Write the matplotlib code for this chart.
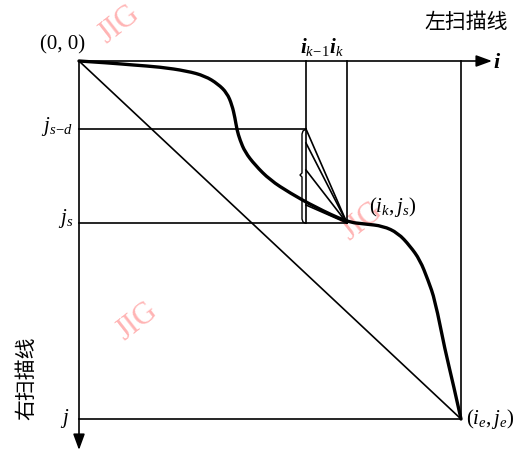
import matplotlib
matplotlib.use("Agg")
import matplotlib.pyplot as plt
from matplotlib.patches import FancyArrowPatch, PathPatch
from matplotlib.path import Path

plt.rcParams['mathtext.fontset'] = 'custom'
plt.rcParams['mathtext.rm'] = 'Liberation Serif'
plt.rcParams['mathtext.it'] = 'Liberation Serif:italic'
plt.rcParams['mathtext.bf'] = 'Liberation Serif:bold:italic'
plt.rcParams['font.family'] = ['Liberation Serif', 'DejaVu Serif']

# ---- diagram data (i to the right, j downward, origin at (0,0)) ----
i_k1 = 227      # i_{k-1}
i_k = 268       # i_k
i_e = 382       # i_e
j_sd = 68       # j_{s-d}
j_s = 162       # j_s
j_e = 358       # j (= j_e)

curve_i = [0, 31, 54, 81, 108, 126, 139, 148, 153, 156, 158, 161, 166, 176, 191, 211,
           236, 268, 286, 304, 319, 331, 341, 349, 356, 366, 374, 382]
curve_j = [0, 2, 4, 6, 10, 15, 23, 32, 44, 57, 69, 79, 91, 104, 119, 132,
           146, 161, 163, 165, 172, 185, 199, 219, 239, 289, 322, 358]

fan_j = [68, 82, 109, 144]   # fan line end points on the i_{k-1} vertical

fig = plt.figure(figsize=(5.21, 4.51), dpi=100)
ax = fig.add_axes([0, 0, 1, 1])
ax.set_xlim(-79, 442)
ax.set_ylim(390, -61)
ax.axis('off')

lw = 1.2
k = 'black'

# axes arrows
ax.add_patch(FancyArrowPatch((0, 0), (413, 0), arrowstyle='-|>,head_length=6,head_width=2.2',
                             color=k, lw=lw, mutation_scale=1.6, shrinkA=0, shrinkB=0))
ax.add_patch(FancyArrowPatch((0, 0), (0, 389), arrowstyle='-|>,head_length=6,head_width=2.2',
                             color=k, lw=lw, mutation_scale=1.6, shrinkA=0, shrinkB=0))

# verticals
ax.plot([i_k1, i_k1], [0, j_s], color=k, lw=lw)
ax.plot([i_k, i_k], [0, j_s], color=k, lw=lw)
ax.plot([i_e, i_e], [0, j_e], color=k, lw=lw)
# horizontals
ax.plot([0, i_k1], [j_sd, j_sd], color=k, lw=lw)
ax.plot([0, i_k], [j_s, j_s], color=k, lw=lw)
ax.plot([0, i_e], [j_e, j_e], color=k, lw=lw)
# diagonal
ax.plot([0, i_e], [0, j_e], color=k, lw=lw)

# fan lines
for fj in fan_j:
    ax.plot([i_k1, i_k], [fj, j_s], color=k, lw=lw)

# brace
bx = i_k1 - 4
ax.plot([i_k1, bx + 1, bx, bx, bx - 2, bx, bx, bx + 1, i_k1 - 1],
        [j_sd, j_sd + 2, j_sd + 5, 112, 114, 116, j_s - 4, j_s - 1, j_s],
        color=k, lw=1.0)

# thick curve (smoothed: quadratic segments through midpoints of the listed points)
pts = list(zip(curve_i, curve_j))
verts = [pts[0]]
codes = [Path.MOVETO]
for a in range(1, len(pts) - 1):
    last = a + 1 == len(pts) - 1
    nxt = pts[a + 1]
    mid = nxt if last else ((pts[a][0] + nxt[0]) / 2, (pts[a][1] + nxt[1]) / 2)
    verts += [pts[a], mid]
    codes += [Path.CURVE3, Path.CURVE3]
ax.add_patch(PathPatch(Path(verts, codes), fill=False, edgecolor=k, lw=2.4,
                       capstyle='round', joinstyle='round'))

# watermarks
for (x, y) in [(40, -36), (283, 161), (58, 261)]:
    ax.text(x, y, 'JIG', color='#ffb4b4', fontsize=22, rotation=38, ha='center', va='center',
            family=['Liberation Serif'], zorder=0)

# labels
fs = 15
ax.text(-16, -16, '(0, 0)', fontsize=fs, ha='center', va='center')
ax.text(418, 2, r'$\mathbf{i}$', fontsize=fs + 1, ha='center', va='center')
ax.text(243, -14, r'$\mathbf{i}_{k\!-\!1}\mathbf{i}_k$', fontsize=fs, ha='center', va='center')
ax.text(-6, j_sd - 3, r'$j_{s\!-\!d}$', fontsize=fs, ha='right', va='center')
ax.text(-6, j_s - 5, r'$j_s$', fontsize=fs, ha='right', va='center')
ax.text(-9, j_e, r'$j$', fontsize=fs, ha='right', va='center')
ax.text(290, 146, r'$(i_k, j_s)$', fontsize=fs, ha='left', va='center')
ax.text(387, j_e, r'$(i_e, j_e)$', fontsize=fs, ha='left', va='center')

ax.text(387, -39, '左扫描线', fontsize=15, ha='center', va='center',
        family=['Noto Sans CJK SC', 'DejaVu Sans'])
ax.text(-53, 317, '右扫描线', fontsize=15, ha='center', va='center', rotation=90,
        family=['Noto Sans CJK SC', 'DejaVu Sans'])

fig.savefig('out.png', dpi=100)
